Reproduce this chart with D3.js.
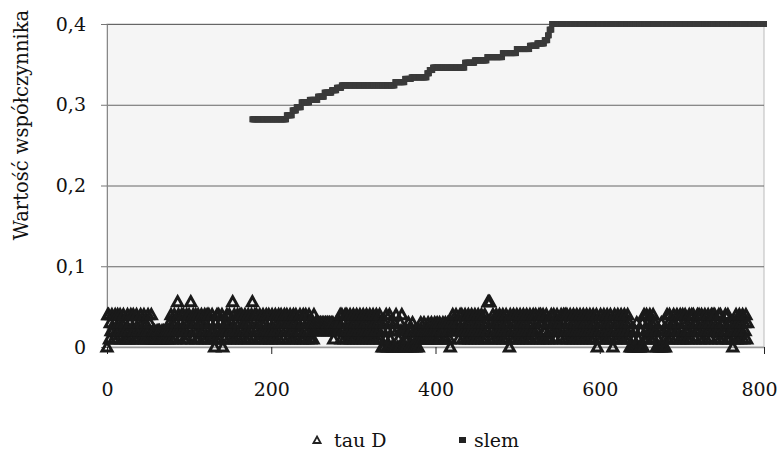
<!DOCTYPE html>
<html>
<head>
<meta charset="utf-8">
<script src="https://cdn.jsdelivr.net/npm/d3@7"></script>
<style>
    body { margin: 0; background: #fff; }
    svg text { font-family: "DejaVu Serif", serif !important; }
</style>
</head>
<body>
<script>
var width = 779,
    height = 453;

var fontSize = 19;

var xTicks = [0, 200, 400, 600, 800];
var yTicks = [0, 0.1, 0.2, 0.3, 0.4];
var yTickLabels = ['0', '0,1', '0,2', '0,3', '0,4'];

// slem: sorted values, runs of equal value (first index of each run)
var slemStart = [177, 219, 226, 231, 237, 247, 257, 265, 274, 280, 286, 351, 363, 371,
    390, 393, 397, 436, 448, 463, 482, 499, 515, 524, 533, 537, 539, 542];
var slemValue = [0.282, 0.287, 0.293, 0.297, 0.303, 0.306, 0.310, 0.315, 0.318, 0.321,
    0.324, 0.328, 0.332, 0.334, 0.339, 0.343, 0.346, 0.352, 0.355, 0.359, 0.364, 0.369,
    0.373, 0.376, 0.380, 0.386, 0.393, 0.400];
var slemLast = 800;

// tau D: one digit per point, in hundredths; 'x' = 0,056
var tauDigits = [
    '0441324213421432413241321412341242314213',
    '2413241321423141212112122112121221213241',
    '324132x421342413241342x31423412413243124',
    '314241324120314241324021324314231x241324',
    '13424132413241324x1342413241324132412431',
    '2413241324134231423413241324134213242134',
    '1243124312314232323232323232332323231223',
    '2323414231424132413241324132413241324132',
    '4132413241324130203140204130203042010324',
    '0201021302203102012021321231212312132123',
    '1232131223213123210324232423124241324132',
    '413241324132413241324132xxx1324132413241',
    '3241324132041324132413241324132413241324',
    '2143214341342124313214324312432314234142',
    '4132413241324132413241324132413241324013',
    '2413241324132413024132413241324132413020',
    '0102030100203041241324132413200102030201',
    '0241342132431242314124314231243142431234',
    '2413421342134231424342132414321324214312',
    '320132413241324132413'
].join('');

var tauD = tauDigits.split('').map(function (c) {
    return c === 'x' ? 0.056 : +c / 100;
});

var slem = [];
slemStart.forEach(function (s, k) {
    var e = k < slemStart.length - 1 ? slemStart[k + 1] - 1 : slemLast;
    for (var i = s; i <= e; i++) slem.push({ i: i, v: slemValue[k] });
});

var x = d3.scaleLinear().domain([0, 800]).range([107, 764]);
var y = d3.scaleLinear().domain([0, 0.4]).range([347, 24]);

var svg = d3.select('body')
    .append('svg')
    .attr('width', width)
    .attr('height', height);

svg.append('rect')
    .attr('x', x(0))
    .attr('y', y(0.4))
    .attr('width', x(800) - x(0))
    .attr('height', y(0) - y(0.4))
    .attr('fill', '#f5f5f5')
    .attr('stroke', '#bbb');

// grid
svg.append('g')
    .attr('transform', 'translate(' + x(0) + ',0)')
    .call(d3.axisLeft(y).tickValues(yTicks.slice(1)).tickSize(-(x(800) - x(0))).tickFormat(''))
    .call(function (g) { g.select('.domain').remove(); })
    .selectAll('line')
    .attr('stroke', '#666');

// y axis
var yAxis = svg.append('g')
    .attr('transform', 'translate(' + x(0) + ',0)')
    .call(d3.axisLeft(y).tickValues(yTicks).tickSize(6).tickSizeOuter(0).tickPadding(15)
        .tickFormat(function (d, i) { return yTickLabels[i]; }));
yAxis.attr('font-size', fontSize);
yAxis.select('.domain').attr('stroke', '#888');
yAxis.selectAll('line').attr('stroke', '#777');
yAxis.selectAll('text').attr('fill', '#111');

// x axis
var xAxis = svg.append('g')
    .attr('transform', 'translate(0,' + y(0) + ')')
    .call(d3.axisBottom(x).tickValues(xTicks).tickSize(7).tickSizeOuter(0).tickPadding(29));
xAxis.attr('font-size', fontSize);
xAxis.select('.domain').attr('stroke', '#999').attr('stroke-width', 1.5);
xAxis.selectAll('line').attr('stroke', '#222');
xAxis.selectAll('text').attr('fill', '#111')
    .attr('dx', function (d) { return d === 800 ? -5 : 0; });

var tri = 'M0,-5L5,4L-5,4Z';

svg.append('g')
    .selectAll('path')
    .data(tauD)
    .enter()
    .append('path')
    .attr('d', tri)
    .attr('transform', function (d, i) {
        return 'translate(' + x(i) + ',' + y(d) + ')';
    })
    .attr('fill', 'none')
    .attr('stroke', '#1a1a1a')
    .attr('stroke-width', 3);

svg.append('g')
    .selectAll('rect')
    .data(slem)
    .enter()
    .append('rect')
    .attr('x', function (d) { return x(d.i) - 3; })
    .attr('y', function (d) { return y(d.v) - 3; })
    .attr('width', 6)
    .attr('height', 6)
    .attr('fill', '#3a3a3a');

svg.append('text')
    .attr('transform', 'translate(28,125) rotate(-90)')
    .attr('text-anchor', 'middle')
    .attr('font-size', fontSize + 0.5)
    .attr('fill', '#111')
    .text('Wartość współczynnika');

// legend
var legend = svg.append('g')
    .attr('font-size', fontSize)
    .attr('fill', '#111');
legend.append('path')
    .attr('d', 'M0,-3.5L3.6,3L-3.6,3Z')
    .attr('transform', 'translate(317,440)')
    .attr('fill', '#fff')
    .attr('stroke', '#222')
    .attr('stroke-width', 1.8);
legend.append('text')
    .attr('x', 334)
    .attr('y', 447)
    .text('tau D');
legend.append('rect')
    .attr('x', 459)
    .attr('y', 437)
    .attr('width', 7)
    .attr('height', 6)
    .attr('fill', '#222');
legend.append('text')
    .attr('x', 474)
    .attr('y', 447)
    .text('slem');
</script>
</body>
</html>
